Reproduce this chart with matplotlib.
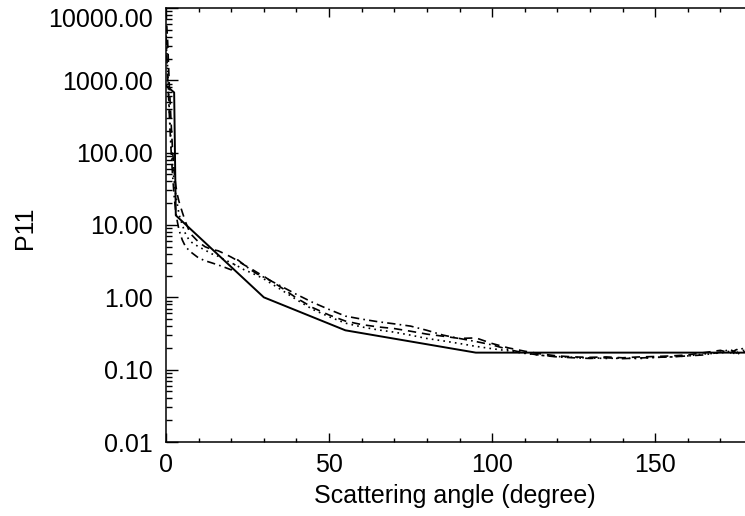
import numpy as np
import matplotlib
matplotlib.use("Agg")
import matplotlib.pyplot as plt
from matplotlib.ticker import FixedLocator, LogLocator, NullFormatter
from matplotlib.transforms import offset_copy, blended_transform_factory

# Scattering angles (degrees) for the three detailed model phase functions
angle = [0, 0.5, 1, 1.5, 2, 2.5, 3, 3.5, 4, 5, 6, 7, 8, 10, 12, 14, 16, 18, 20,
         22, 24, 26, 28, 30, 35, 40, 45, 50, 55, 60, 65, 70, 75, 80, 85, 90, 95,
         100, 105, 110, 115, 120, 125, 130, 135, 140, 145, 150, 155, 160, 165,
         170, 173, 175, 177, 180]

p11_dashed = [9000, 3500, 900, 300, 110, 55, 35, 26, 21, 15, 11, 8.5, 7.2, 5.8,
              5.0, 4.6, 4.4, 4.0, 3.6, 3.2, 2.8, 2.5, 2.2, 1.95, 1.4, 0.98, 0.72,
              0.57, 0.47, 0.42, 0.39, 0.37, 0.34, 0.31, 0.29, 0.27, 0.275, 0.23,
              0.2, 0.18, 0.165, 0.155, 0.15, 0.148, 0.15, 0.146, 0.15, 0.152,
              0.155, 0.16, 0.172, 0.185, 0.17, 0.19, 0.175, 0.18]

p11_dotted = [5000, 1500, 400, 150, 70, 40, 26, 19, 14, 10, 7.5, 6.3, 5.7, 5.0,
              4.5, 4.0, 3.7, 3.3, 3.0, 2.7, 2.4, 2.2, 2.0, 1.8, 1.3, 0.93, 0.68,
              0.54, 0.44, 0.39, 0.355, 0.33, 0.3, 0.27, 0.25, 0.23, 0.21, 0.195,
              0.182, 0.168, 0.158, 0.152, 0.148, 0.145, 0.143, 0.145, 0.142, 0.148,
              0.15, 0.155, 0.165, 0.17, 0.18, 0.16, 0.185, 0.17]

p11_dashdot = [4000, 1200, 350, 120, 50, 25, 15, 11, 8.5, 6.2, 5.0, 4.5, 4.1,
               3.5, 3.2, 3.0, 2.8, 2.6, 2.4, 3.3, 2.8, 2.4, 2.1, 1.9, 1.45,
               1.1, 0.85, 0.68, 0.55, 0.5, 0.46, 0.43, 0.4, 0.35, 0.3, 0.27,
               0.245, 0.22, 0.19, 0.17, 0.158, 0.15, 0.146, 0.143, 0.146, 0.142,
               0.145, 0.148, 0.15, 0.155, 0.16, 0.175, 0.19, 0.17, 0.2, 0.16]

# Coarse piecewise phase function (solid line)
angle_solid = [0, 2.5, 3, 30, 55, 95, 180]
p11_solid = [850, 680, 13.6, 1.0, 0.35, 0.172, 0.172]

y_ticks = [0.01, 0.1, 1, 10, 100, 1000, 10000]
y_tick_labels = ["0.01", "0.10", "1.00", "10.00", "100.00", "1000.00", "10000.00"]

W, H = 745, 516
fig = plt.figure(figsize=(W / 100, H / 100), dpi=100)
left, right, top, bottom = 166, 753, 8, 442
ax = fig.add_axes([left / W, 1 - bottom / H, (right - left) / W, (bottom - top) / H])

font = "Liberation Sans"
fs = 18
lw = 1.2
ax.plot(angle_solid, p11_solid, color="black", lw=1.4, linestyle="-")
ax.plot(angle, p11_dashed, color="black", lw=lw, linestyle=(0, (5, 3.5)))
ax.plot(angle, p11_dotted, color="black", lw=lw, linestyle=(0, (1, 2.5)))
ax.plot(angle, p11_dashdot, color="black", lw=lw, linestyle=(0, (5, 2.5, 1, 2.5)))

ax.set_yscale("log")
ax.set_xlim(0, 180)
ax.set_ylim(0.01, 10000)

ax.xaxis.set_major_locator(FixedLocator([0, 50, 100, 150]))
ax.xaxis.set_minor_locator(FixedLocator(list(range(0, 181, 10))))
ax.yaxis.set_major_locator(FixedLocator(y_ticks))
ax.yaxis.set_minor_locator(LogLocator(base=10, subs=np.arange(2, 10), numticks=20))
ax.yaxis.set_minor_formatter(NullFormatter())
ax.set_yticklabels([])

for s in ax.spines.values():
    s.set_linewidth(1.1)

ax.tick_params(axis="x", which="major", direction="in", length=6.2, width=1.0,
               top=True, bottom=True, pad=8, labelsize=fs)
ax.tick_params(axis="x", which="minor", direction="in", length=3.1, width=1.0,
               top=True, bottom=True)
ax.tick_params(axis="y", which="major", direction="in", length=8.4, width=1.0,
               left=True, right=False)
ax.tick_params(axis="y", which="minor", direction="in", length=4.2, width=1.0,
               left=True, right=False)
for lab in ax.get_xticklabels():
    lab.set_fontfamily(font)

# Y tick labels sit slightly below their ticks; the top one is pushed inside the frame
blend = blended_transform_factory(ax.transAxes, ax.transData)
for val, txt in zip(y_ticks, y_tick_labels):
    dy = -9.0 if val == 10000 else -1.8
    tr = offset_copy(blend, fig=fig, x=-9.5, y=dy, units="points")
    ax.text(0, val, txt, transform=tr, ha="right", va="center", fontsize=fs,
            family=font, clip_on=False)

fig.text(455 / W, 1 - 496 / H, "Scattering angle (degree)", ha="center",
         va="center", fontsize=fs, family=font)
fig.text(25 / W, 1 - 228 / H, "P11", ha="center", va="center", rotation=90,
         fontsize=fs, family=font)

fig.savefig("out.png", dpi=100)
